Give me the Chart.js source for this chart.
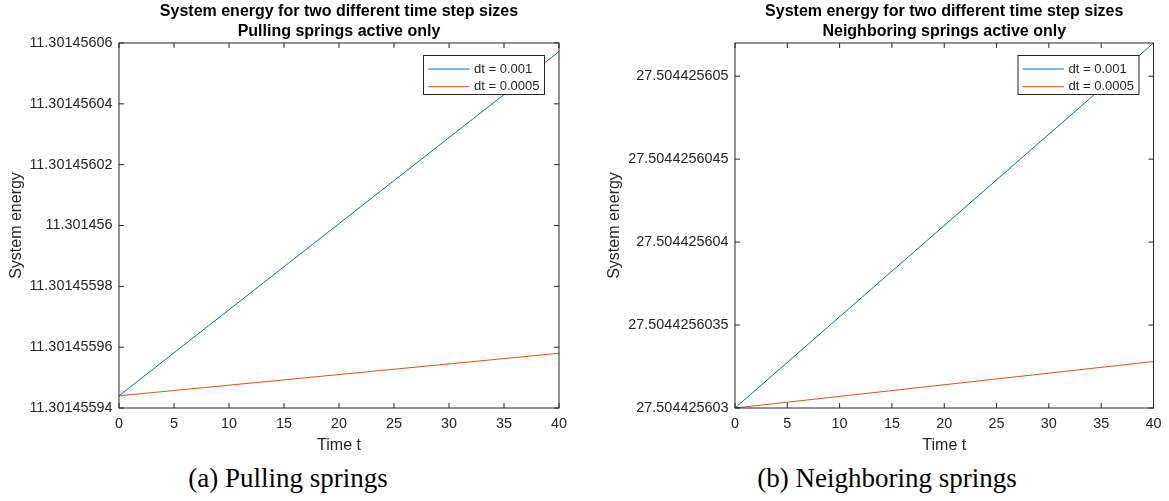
<!DOCTYPE html>
<html>
<head>
<meta charset="utf-8">
<script src="https://cdn.jsdelivr.net/npm/chart.js@4"></script>
<style>
  html, body { margin: 0; padding: 0; background: #fff; }
  #page { position: relative; width: 1169px; height: 501px; overflow: hidden; }
  canvas { position: absolute; top: 0; }
  #c-pull  { left: 0; }
  #c-neigh { left: 585px; }
  .cap {
    position: absolute; top: 463px; width: 400px; text-align: center;
    font: 27px/30px "Liberation Serif", "Times New Roman", serif; color: #000;
  }
</style>
</head>
<body>
<div id="page">
  <canvas id="c-pull" width="585" height="460"></canvas>
  <canvas id="c-neigh" width="584" height="460"></canvas>
  <div class="cap" style="left:88px">(a) Pulling springs</div>
  <div class="cap" style="left:687px">(b) Neighboring springs</div>
</div>
<script>
/* ── Data ── */
const timeT      = [0, 40];
const timeTicks  = [0, 5, 10, 15, 20, 25, 30, 35, 40];

// (a) pulling springs
const pullDt001  = [11.301455944, 11.3014560572];
const pullDt0005 = [11.301455944, 11.301455958];
const pullTicks  = [11.30145594, 11.30145596, 11.30145598, 11.301456, 11.30145602, 11.30145604, 11.30145606];
const pullLabels = ['11.30145594', '11.30145596', '11.30145598', '11.301456', '11.30145602', '11.30145604', '11.30145606'];

// (b) neighboring springs
const neighDt001  = [27.504425603, 27.5044256052];
const neighDt0005 = [27.504425603, 27.50442560328];
const neighTicks  = [27.504425603, 27.5044256035, 27.504425604, 27.5044256045, 27.504425605];
const neighLabels = ['27.504425603', '27.5044256035', '27.504425604', '27.5044256045', '27.504425605'];

const seriesLabels = ['dt = 0.001', 'dt = 0.0005'];
const seriesColors = ['#0072BD', '#D95319'];

const AXIS = '#262626';
const SANS = '"Liberation Sans", Arial, Helvetica, sans-serif';
const TICK = 5;

/* ── MATLAB-like box with inward ticks ── */
const boxAxes = {
  id: 'boxAxes',
  afterDatasetsDraw(chart) {
    const { ctx, chartArea: a, scales: { x, y } } = chart;
    ctx.save();
    ctx.strokeStyle = AXIS;
    ctx.lineWidth = 1;
    ctx.strokeRect(a.left, a.top, a.right - a.left, a.bottom - a.top);
    ctx.beginPath();
    x.ticks.forEach(t => {
      const px = x.getPixelForValue(t.value);
      ctx.moveTo(px, a.bottom); ctx.lineTo(px, a.bottom - TICK);
      ctx.moveTo(px, a.top);    ctx.lineTo(px, a.top + TICK);
    });
    y.ticks.forEach(t => {
      const py = y.getPixelForValue(t.value);
      ctx.moveTo(a.left, py);  ctx.lineTo(a.left + TICK, py);
      ctx.moveTo(a.right, py); ctx.lineTo(a.right - TICK, py);
    });
    ctx.stroke();
    ctx.restore();
  }
};

/* ── legend box in the north-east corner ── */
const boxLegend = {
  id: 'boxLegend',
  afterDraw(chart) {
    const { ctx, chartArea: a } = chart;
    const w = 121, h = 39;
    const left = a.right - 14.5 - w, top = a.top + 12.5;
    ctx.save();
    ctx.fillStyle = '#fff';
    ctx.fillRect(left, top, w, h);
    ctx.strokeStyle = AXIS;
    ctx.lineWidth = 1;
    ctx.strokeRect(left, top, w, h);
    ctx.font = '13px ' + SANS;
    ctx.textBaseline = 'middle';
    ctx.textAlign = 'left';
    chart.data.datasets.forEach((ds, i) => {
      const yy = top + 13.5 + i * 17.7;
      ctx.strokeStyle = ds.borderColor;
      ctx.beginPath();
      ctx.moveTo(left + 4.5, yy); ctx.lineTo(left + 46, yy);
      ctx.stroke();
      ctx.fillStyle = AXIS;
      ctx.fillText(ds.label, left + 50.5, yy);
    });
    ctx.restore();
  }
};

function mkPoints(ys) {
  return timeT.map((t, i) => ({ x: t, y: ys[i] }));
}

function mkChart(id, opts) {
  return new Chart(document.getElementById(id), {
    type: 'line',
    data: {
      datasets: opts.series.map((ys, i) => ({
        label: seriesLabels[i],
        data: mkPoints(ys),
        borderColor: seriesColors[i],
        backgroundColor: seriesColors[i],
        borderWidth: 1, pointRadius: 0, tension: 0, fill: false,
      }))
    },
    options: {
      responsive: false, animation: false,
      layout: { padding: { left: 0, right: opts.padRight, top: 0, bottom: 0 } },
      plugins: {
        legend: { display: false },
        tooltip: { enabled: false },
        title: {
          display: true, fullSize: false,
          text: ['System energy for two different time step sizes', opts.subtitle],
          color: '#000',
          font: { family: SANS, size: 16, weight: 'bold', lineHeight: 1.25 },
          padding: { top: 2, bottom: 1 },
        },
      },
      scales: {
        x: {
          type: 'linear', min: 0, max: 40,
          afterBuildTicks: s => { s.ticks = timeTicks.map(v => ({ value: v })); },
          afterFit: s => { s.height = 52; },
          grid: { display: false, drawTicks: false },
          border: { display: false },
          ticks: { color: AXIS, font: { family: SANS, size: 14.4 }, padding: 7.5, maxRotation: 0, autoSkip: false,
                   callback: v => String(v) },
          title: { display: true, text: 'Time t', color: AXIS, font: { family: SANS, size: 16 }, padding: { top: 0, bottom: 4.4 } },
        },
        y: {
          type: 'linear', min: opts.yMin, max: opts.yMax,
          afterBuildTicks: s => { s.ticks = opts.ticks.map(v => ({ value: v })); },
          afterFit: s => { s.width = opts.axisW; },
          grid: { display: false, drawTicks: false },
          border: { display: false },
          ticks: { color: AXIS, font: { family: SANS, size: 14.4 }, padding: 6.6, autoSkip: false,
                   callback: (v, i) => opts.labels[i] },
          title: { display: true, text: 'System energy', color: AXIS, font: { family: SANS, size: 16 }, padding: { top: opts.yTitlePad, bottom: 0 } },
        }
      }
    },
    plugins: [boxAxes, boxLegend]
  });
}

mkChart('c-pull', {
  series: [pullDt001, pullDt0005],
  subtitle: 'Pulling springs active only',
  yMin: pullTicks[0], yMax: pullTicks[pullTicks.length - 1],
  ticks: pullTicks, labels: pullLabels,
  axisW: 119, padRight: 26, yTitlePad: 6.6,
});

mkChart('c-neigh', {
  series: [neighDt001, neighDt0005],
  subtitle: 'Neighboring springs active only',
  yMin: neighTicks[0], yMax: neighDt001[1],
  ticks: neighTicks, labels: neighLabels,
  axisW: 150, padRight: 11, yTitlePad: 20.4,
});
</script>
</body>
</html>
